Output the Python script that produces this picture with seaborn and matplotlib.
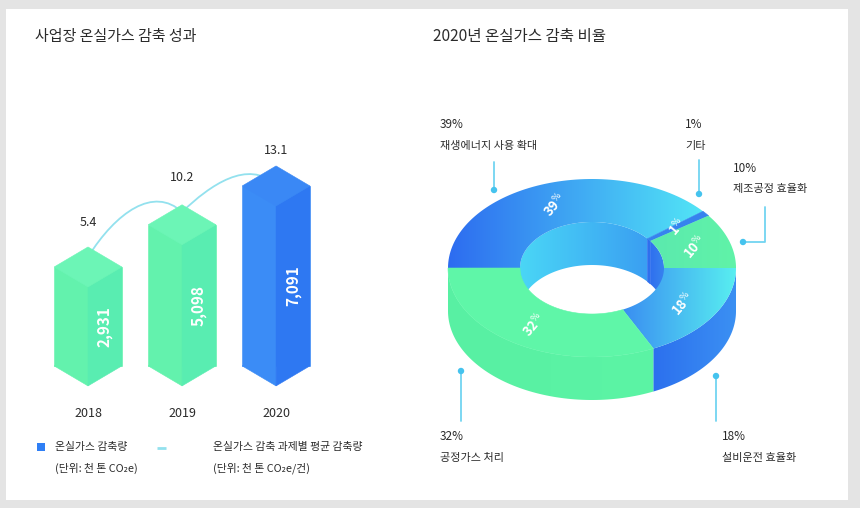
import numpy as np
import matplotlib
matplotlib.use("Agg")
import matplotlib.pyplot as plt
import seaborn as sns
from matplotlib.patches import Polygon, Rectangle, PathPatch, Circle
from matplotlib.path import Path
from matplotlib.colors import LinearSegmentedColormap

# --- data ---
years = ["2018", "2019", "2020"]
reduction = [2931, 5098, 7091]            # 온실가스 감축량 (천 톤 CO2e)
reduction_labels = ["2,931", "5,098", "7,091"]
avg_per_task = [5.4, 10.2, 13.1]          # 과제별 평균 감축량 (천 톤 CO2e/건)

share_names = ["재생에너지 사용 확대", "기타", "제조공정 효율화", "설비운전 효율화", "공정가스 처리"]
share_pct = [39, 1, 10, 18, 32]

sns.set_theme(style="white")
plt.rcParams["font.family"] = ["Noto Sans CJK KR", "DejaVu Sans"]

TXT = "#2b2b2b"

fig = plt.figure(figsize=(8.6, 5.08), dpi=100, facecolor="#e4e4e4")

# background / overlay axes in pixel coordinates
bg = fig.add_axes([0, 0, 1, 1])
bg.axis("off")
bg.add_patch(Rectangle((6, 9), 842, 491, facecolor="white", edgecolor="none", zorder=0))

bg.text(35, 37, "사업장 온실가스 감축 성과", fontsize=10.8, va="center", color=TXT)
bg.text(433, 37, "2020년 온실가스 감축 비율", fontsize=11.2, va="center", color=TXT)


def shade(ax, xy, c1, c2, z, vertical=False):
    """fill a polygon with a linear gradient"""
    xy = np.asarray(xy)
    poly = Polygon(xy, closed=True, facecolor=c1 if c1 == c2 else "none",
                   edgecolor=c1 if c1 == c2 else "none", lw=0.4, zorder=z)
    ax.add_patch(poly)
    if c1 == c2:
        return
    cmap = LinearSegmentedColormap.from_list("g", [c1, c2])
    (x0, y0), (x1, y1) = xy.min(0), xy.max(0)
    grad = np.linspace(0, 1, 256)
    arr = grad[:, None] if vertical else grad[None, :]
    im = ax.imshow(arr, cmap=cmap, extent=(x0, x1, y1, y0), aspect="auto",
                   interpolation="bilinear", origin="upper", zorder=z)
    im.set_clip_path(poly)


# ---------------- left: 3D bars ----------------
axL = fig.add_axes([30 / 860, 108 / 508, 310 / 860, 260 / 508])
axL.set_facecolor("none")
bar_pal = ["#63f2ad", "#63f2ad", "#3b8cf6"]
sns.barplot(x=years, y=reduction, hue=years, palette=bar_pal, width=0.72,
            saturation=1, legend=False, errorbar=None, ax=axL, zorder=2)

BASE = -2150
axL.set_xlim(-0.617, 2.68)
axL.set_ylim(-3900, 9450)
upp = (9450 + 3900) / 260.0   # data units per pixel
d = 20 * upp

face_cols = {
    False: ("#63f2ad", "#59edb1", "#6cf5b6"),
    True: ("#3b8cf6", "#2e78f2", "#3a88f5"),
}
bars = sorted(list(axL.patches), key=lambda r: r.get_x())
for p, v, lab in zip(bars, reduction, reduction_labels):
    p.set_y(BASE)
    p.set_height(v - BASE)
    x0 = p.get_x()
    w = p.get_width()
    xc, x1 = x0 + w / 2, x0 + w
    lc, rc, tc = face_cols[v == max(reduction)]
    p.set_edgecolor(lc)
    p.set_linewidth(0.4)
    axL.add_patch(Polygon([(x0, BASE), (xc, BASE - d), (xc, BASE + d)], facecolor=lc, edgecolor=lc, lw=0.4, zorder=2))
    axL.add_patch(Polygon([(xc, BASE - d), (x1, BASE), (x1, v), (xc, v - d)], facecolor=rc, edgecolor=rc, lw=0.4, zorder=3))
    axL.add_patch(Polygon([(x0, v), (xc, v - d), (x1, v), (xc, v + d)], facecolor=tc, edgecolor=tc, lw=0.4, zorder=3))
    axL.text(xc + w / 4, (BASE + v) / 2 - d / 2, lab, rotation=90, ha="center", va="center",
             color="white", fontsize=11, fontweight="semibold", zorder=4)

# average line on a twin scale, drawn behind the bars
ax2 = axL.twinx()
ax2.set_ylim(-9.9, 17.9)
ax2.axis("off")
verts = [(0, avg_per_task[0])]
codes = [Path.MOVETO]
for i in range(len(avg_per_task) - 1):
    y1 = avg_per_task[i + 1]
    verts += [(i + 0.3, y1), (i + 0.7, y1 + 2.8), (i + 1, y1)]
    codes += [Path.CURVE4] * 3
axL.add_patch(PathPatch(Path(verts, codes), transform=ax2.transData, fill=False,
                        edgecolor="#93e1ee", lw=1.3, zorder=1))
for i, v in enumerate(avg_per_task):
    axL.annotate(f"{v}", xy=(i, v), xycoords=ax2.transData, xytext=(0, 25),
                 textcoords="offset points", ha="center", va="center",
                 fontsize=9, color=TXT, annotation_clip=False)

axL.set_xlabel("")
axL.set_ylabel("")
axL.set_yticks([])
axL.tick_params(axis="x", length=0, pad=5, labelsize=9, labelcolor=TXT)
sns.despine(ax=axL, left=True, bottom=True)

# legend
bg.add_patch(Rectangle((37, 443), 8, 8, facecolor="#2f7ff5", edgecolor="none", zorder=3))
bg.text(55, 447, "온실가스 감축량", fontsize=7.8, va="center", color=TXT)
bg.text(55, 468, "(단위: 천 톤 CO₂e)", fontsize=7.8, va="center", color=TXT)
bg.plot([157, 166], [448, 448], color="#93e1ee", lw=2, solid_capstyle="butt")
bg.text(213, 447, "온실가스 감축 과제별 평균 감축량", fontsize=7.8, va="center", color=TXT)
bg.text(213, 468, "(단위: 천 톤 CO₂e/건)", fontsize=7.8, va="center", color=TXT)

# ---------------- right: 3D donut ----------------
cx, cy, A, B, Ai, Bi, H = 592, 268, 144, 89, 72, 46, 43


def arc(a, b, t1, t2, dy=0, n=80):
    t = np.radians(np.linspace(t1, t2, n))
    return np.column_stack([cx + a * np.cos(t), cy - b * np.sin(t) + dy])


ends = 180 - 3.6 * np.cumsum(share_pct)
starts = np.r_[180, ends[:-1]]

top_cols = [("#2d6cf0", "#52e5f6"), ("#3683ee", "#3683ee"), ("#5be9ae", "#60f3a8"),
            ("#3a8ef2", "#58eff0"), ("#5ff6a8", "#5ff6a8")]
side_cols = [("#2a68e8", "#2a68e8"), ("#2e70ee", "#2e70ee"), ("#2f6fee", "#2f6fee"),
             ("#2c70ee", "#3b90f3"), ("#58f0a3", "#5cf4a5")]
wall_cols = [("#4ad6f6", "#3a9ff2"), ("#2f6fee", "#2f6fee"), ("#2f6fee", "#3783ef"),
             ("#2f6fee", "#2f6fee"), ("#2f6fee", "#2f6fee")]

for k, (s, e) in enumerate(zip(starts, ends)):
    lo, hi = min(s, e), max(s, e)
    # outer side wall (front half)
    slo, shi = max(lo, -180), min(hi, 0)
    if shi > slo:
        xy = np.vstack([arc(A, B, slo, shi), arc(A, B, shi, slo, dy=H)])
        shade(bg, xy, *side_cols[k], z=2)
    # inner wall seen through the hole (back half)
    wlo, whi = max(lo, 0), min(hi, 180)
    if whi > wlo:
        xy = np.vstack([arc(Ai, Bi, whi, wlo), arc(Ai, Bi, wlo, whi, dy=H)])
        shade(bg, xy, *wall_cols[k], z=2)
    # top face
    xy = np.vstack([arc(A, B, s, e), arc(Ai, Bi, e, s)])
    shade(bg, xy, *top_cols[k], z=3)
    # value inside the ring
    m = np.radians((s + e) / 2)
    tx = cx + (A + Ai) / 2 * np.cos(m)
    ty = cy - (B + Bi) / 2 * np.sin(m)
    bg.text(tx, ty, f"{share_pct[k]}$^{{\\%}}$", rotation=50, ha="center", va="center",
            color="white", fontsize=9.5, fontweight="bold", zorder=5)

# callouts
lead = "#72d4f1"
callouts = [
    ([494, 494], [162, 190], (494, 190), (440, 125)),
    ([699, 699], [160, 194], (699, 194), (685, 125)),
    ([765, 765, 743], [207, 242, 242], (743, 242), (733, 168)),
    ([716, 716], [376, 421], (716, 376), (722, 437)),
    ([461, 461], [371, 421], (461, 371), (440, 437)),
]
for k, (lx, ly, dot, tp) in enumerate(callouts):
    bg.plot(lx, ly, color=lead, lw=1.3, zorder=4)
    bg.add_patch(Circle(dot, 3.2, facecolor="#45c3ee", edgecolor="none", zorder=4))
    bg.text(tp[0], tp[1], f"{share_pct[k]}%", fontsize=8.5, va="center", color=TXT)
    bg.text(tp[0], tp[1] + 21, share_names[k], fontsize=8, va="center", color=TXT)

bg.set_xlim(0, 860)
bg.set_ylim(508, 0)

fig.savefig("out.png", dpi=100, facecolor=fig.get_facecolor())
